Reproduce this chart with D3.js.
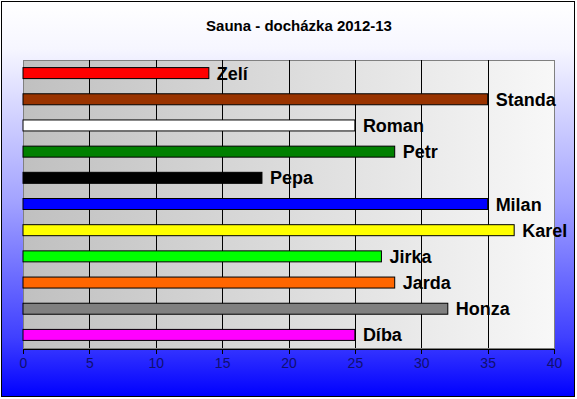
<!DOCTYPE html>
<html>
  <head>
    <meta charset="utf-8">
    <title>Sauna - docházka 2012-13</title>
    <script type="text/javascript" src="https://cdn.jsdelivr.net/npm/d3@7"></script>
    <style type="text/css">
      body { margin: 0; background: #fff; }
      svg { display: block; font-family: Arial, "Liberation Sans", sans-serif; }
      .axis text { font-size: 14px; fill: #101070; }
      .axis path, .axis line { stroke: #000; shape-rendering: crispEdges; }
    </style>
  </head>
  <body>
    <script type="text/javascript">
      var w = 577, h = 399;

      // data
      var names  = ["Zelí", "Standa", "Roman", "Petr", "Pepa", "Milan", "Karel", "Jirka", "Jarda", "Honza", "Díba"];
      var values = [14, 35, 25, 28, 18, 35, 37, 27, 28, 32, 25];
      var colors = ["#ff0000", "#993300", "#ffffff", "#008000", "#000000", "#0000ff", "#ffff00", "#00ff00", "#ff6600", "#808080", "#ff00ff"];
      var ticks  = [0, 5, 10, 15, 20, 25, 30, 35, 40];

      // plot area
      var plotL = 23, plotR = 554, plotT = 60, plotB = 348;

      var svg = d3.select("body").append("svg")
                  .attr("width", w)
                  .attr("height", h);

      var defs = svg.append("defs");
      var bg = defs.append("linearGradient").attr("id", "bg")
                   .attr("x1", 0).attr("x2", 0).attr("y1", 0).attr("y2", 1);
      bg.append("stop").attr("offset", 0).attr("stop-color", "#ffffff");
      bg.append("stop").attr("offset", 0.12).attr("stop-color", "#f6f6ff");
      bg.append("stop").attr("offset", 0.5).attr("stop-color", "#a4a4ff");
      bg.append("stop").attr("offset", 0.85).attr("stop-color", "#4040ff");
      bg.append("stop").attr("offset", 1).attr("stop-color", "#0000ff");

      var pg = defs.append("linearGradient").attr("id", "pg")
                   .attr("x1", 0).attr("x2", 1).attr("y1", 0).attr("y2", 0);
      pg.append("stop").attr("offset", 0).attr("stop-color", "#c0c0c0");
      pg.append("stop").attr("offset", 1).attr("stop-color", "#f8f8f8");

      // chart background + border
      svg.append("rect")
         .attr("x", 1.5).attr("y", 1.5)
         .attr("width", w - 4).attr("height", h - 4)
         .attr("fill", "url(#bg)")
         .attr("stroke", "#000");

      svg.append("text")
         .attr("x", 299).attr("y", 31)
         .attr("text-anchor", "middle")
         .attr("font-size", "15px")
         .attr("font-weight", "bold")
         .text("Sauna - docházka 2012-13");

      // scales
      var xScale = d3.scaleLinear().domain([0, 40]).range([plotL, plotR]);
      var yScale = d3.scaleBand().domain(names).range([plotT, plotB])
                     .paddingInner(0.58).paddingOuter(0.29);

      svg.append("rect")
         .attr("x", plotL + 0.5).attr("y", plotT + 0.5)
         .attr("width", plotR - plotL).attr("height", plotB - plotT)
         .attr("fill", "url(#pg)")
         .attr("stroke", "#808080")
         .attr("shape-rendering", "crispEdges");

      // labels (drawn under gridlines like the original)
      svg.selectAll("text.lbl")
         .data(names)
         .enter()
         .append("text")
         .attr("class", "lbl")
         .attr("x", function(d, i) { return xScale(values[i]) + 8; })
         .attr("y", function(d) { return yScale(d) + yScale.bandwidth() / 2 + 6.5; })
         .attr("font-size", "18px")
         .attr("font-weight", "bold")
         .attr("fill", "#000")
         .text(function(d) { return d; });

      // gridlines
      svg.selectAll("line.grid")
         .data(ticks.slice(1, -1))
         .enter()
         .append("line")
         .attr("class", "grid")
         .attr("x1", function(d) { return Math.round(xScale(d)) + 0.5; })
         .attr("x2", function(d) { return Math.round(xScale(d)) + 0.5; })
         .attr("y1", plotT).attr("y2", plotB)
         .attr("stroke", "#000");

      // bars
      svg.selectAll("rect.bar")
         .data(names)
         .enter()
         .append("rect")
         .attr("class", "bar")
         .attr("x", xScale(0))
         .attr("y", function(d) { return yScale(d); })
         .attr("width", function(d, i) { return xScale(values[i]) - xScale(0); })
         .attr("height", yScale.bandwidth())
         .attr("fill", function(d, i) { return colors[i]; })
         .attr("stroke", "#000");

      // x axis
      var xAxis = d3.axisBottom(xScale).tickValues(ticks).tickSize(5).tickPadding(5).tickSizeOuter(5);
      svg.append("g")
         .attr("class", "axis")
         .attr("transform", "translate(0," + (plotB + 0.5) + ")")
         .call(xAxis)
         .selectAll("text").attr("font-family", "Arial, 'Liberation Sans', sans-serif");
    </script>
  </body>
</html>
